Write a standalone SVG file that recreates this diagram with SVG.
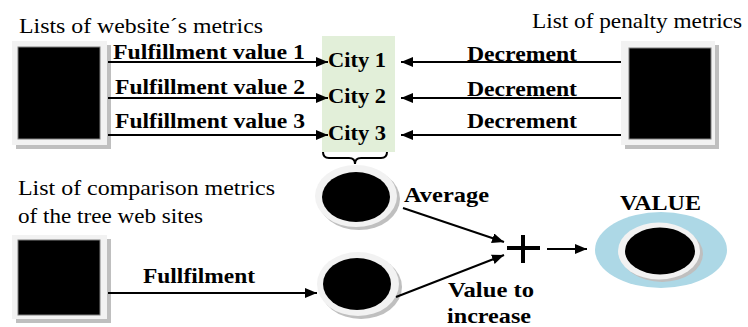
<svg xmlns="http://www.w3.org/2000/svg" width="748" height="327" viewBox="0 0 748 327">
<defs>
<marker id="ah" markerUnits="userSpaceOnUse" markerWidth="13" markerHeight="11" refX="12" refY="5" orient="auto">
<path d="M0,0 L12,5 L0,10 z" fill="#000"/>
</marker>
<style>
.b{font-weight:bold;font-size:21px}
.r{font-size:22px}
.ln{stroke:#000;stroke-width:2;fill:none}
.frame{fill:#f2f2f2}
.shadow{fill:#bfbfbf}
.blk{fill:#000;stroke:#7f7f7f;stroke-width:1}
</style>
</defs>
<rect width="748" height="327" fill="#fff"/>
<g font-family="Liberation Serif, DejaVu Serif, Times New Roman, serif" fill="#000">

<g id="cities">
<rect x="322" y="36" width="73" height="116" fill="#e2efd9"/>
<text class="b" x="328" y="67" textLength="58" lengthAdjust="spacingAndGlyphs">City 1</text>
<text class="b" x="328" y="103" textLength="58" lengthAdjust="spacingAndGlyphs">City 2</text>
<text class="b" x="328" y="140" textLength="58" lengthAdjust="spacingAndGlyphs">City 3</text>
</g>

<g id="website-metrics">
<text class="r" x="19" y="33" textLength="244" lengthAdjust="spacingAndGlyphs">Lists of website´s metrics</text>
<rect class="shadow" x="16" y="45" width="95" height="104"/>
<rect class="frame" x="12" y="41" width="95" height="104"/>
<rect class="blk" x="18" y="47" width="82" height="92"/>
</g>

<g id="penalty-metrics">
<text class="r" x="532" y="28" textLength="210" lengthAdjust="spacingAndGlyphs">List of penalty metrics</text>
<rect class="shadow" x="625" y="45" width="94" height="104"/>
<rect class="frame" x="621" y="41" width="94" height="104"/>
<rect class="blk" x="629" y="48" width="82" height="91"/>
</g>

<g id="comparison-metrics">
<text class="r" x="18" y="195" textLength="257" lengthAdjust="spacingAndGlyphs">List of comparison metrics</text>
<text class="r" x="18" y="223" textLength="185" lengthAdjust="spacingAndGlyphs">of the tree web sites</text>
<rect class="shadow" x="16" y="239" width="95" height="84"/>
<rect class="frame" x="12" y="235" width="95" height="84"/>
<rect class="blk" x="18" y="240" width="82" height="75"/>
</g>

<g id="average-node">
<ellipse class="shadow" cx="359" cy="199" rx="41" ry="31"/>
<ellipse class="frame" cx="356" cy="196" rx="41" ry="31"/>
<ellipse cx="356" cy="197" rx="34" ry="25" fill="#000"/>
</g>

<g id="increase-node">
<ellipse class="shadow" cx="361" cy="287" rx="41" ry="32"/>
<ellipse class="frame" cx="358" cy="284" rx="41" ry="32"/>
<ellipse cx="357" cy="284" rx="34" ry="26" fill="#000"/>
</g>

<g id="plus">
<path d="M507,248 H540 M523,235 V263" stroke="#000" stroke-width="4" fill="none"/>
</g>

<g id="value-node">
<text x="620" y="210" font-weight="bold" font-size="21" textLength="81" lengthAdjust="spacingAndGlyphs">VALUE</text>
<ellipse cx="661" cy="250" rx="66" ry="38" fill="#add8e6"/>
<ellipse class="shadow" cx="662" cy="254" rx="41" ry="28"/>
<ellipse class="frame" cx="659" cy="251" rx="41" ry="28.5"/>
<ellipse cx="660" cy="251" rx="35" ry="23.5" fill="#000"/>
</g>

<g id="connectors">
<line class="ln" x1="108" y1="62" x2="328" y2="62" marker-end="url(#ah)"/>
<line class="ln" x1="108" y1="98" x2="328" y2="98" marker-end="url(#ah)"/>
<line class="ln" x1="108" y1="135" x2="328" y2="135" marker-end="url(#ah)"/>
<line class="ln" x1="621" y1="62" x2="401" y2="62" marker-end="url(#ah)"/>
<line class="ln" x1="621" y1="98" x2="401" y2="98" marker-end="url(#ah)"/>
<line class="ln" x1="621" y1="135" x2="401" y2="135" marker-end="url(#ah)"/>
<line class="ln" x1="108" y1="293" x2="317" y2="293" marker-end="url(#ah)"/>
<line class="ln" x1="403" y1="208" x2="504" y2="242" marker-end="url(#ah)"/>
<line class="ln" x1="396" y1="297" x2="504" y2="255" marker-end="url(#ah)"/>
<line class="ln" x1="547" y1="249" x2="587" y2="249" marker-end="url(#ah)"/>
<path class="ln" d="M323,152 Q323,158 329,158 H349 Q355,158 355,164 Q355,158 361,158 H381 Q387,158 387,152"/>
<text class="b" x="113" y="59" textLength="192" lengthAdjust="spacingAndGlyphs">Fulfillment value 1</text>
<text class="b" x="115" y="94" textLength="190" lengthAdjust="spacingAndGlyphs">Fulfillment value 2</text>
<text class="b" x="115" y="128" textLength="190" lengthAdjust="spacingAndGlyphs">Fulfillment value 3</text>
<text class="b" x="467" y="61" textLength="110" lengthAdjust="spacingAndGlyphs">Decrement</text>
<text class="b" x="467" y="96" textLength="110" lengthAdjust="spacingAndGlyphs">Decrement</text>
<text class="b" x="467" y="128" textLength="110" lengthAdjust="spacingAndGlyphs">Decrement</text>
<text class="b" x="143" y="283" textLength="112" lengthAdjust="spacingAndGlyphs">Fullfilment</text>
<text class="b" x="404" y="202" textLength="85" lengthAdjust="spacingAndGlyphs">Average</text>
<text class="b" x="448" y="297" textLength="86" lengthAdjust="spacingAndGlyphs">Value to</text>
<text class="b" x="447" y="323" textLength="84" lengthAdjust="spacingAndGlyphs">increase</text>
</g>
</g>
</svg>
